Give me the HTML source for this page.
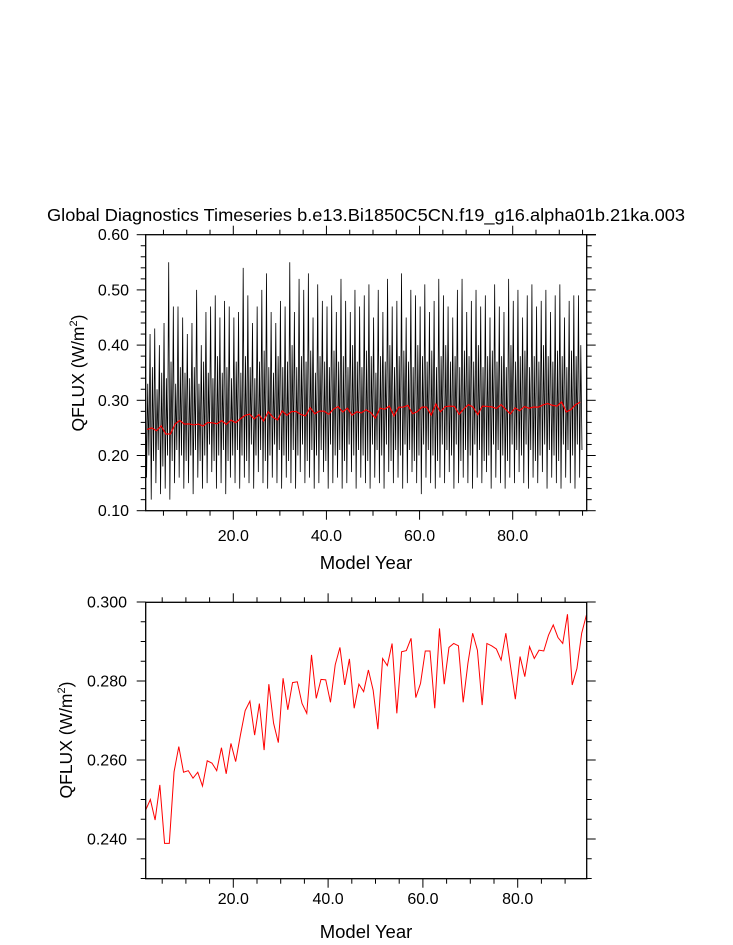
<!DOCTYPE html>
<html><head><meta charset="utf-8"><style>
html,body{margin:0;padding:0;background:#fff}
svg{display:block;font-family:"Liberation Sans",Arial,sans-serif}
</style></head><body>
<svg id="fig" width="733" height="945" viewBox="0 0 733 945" xmlns="http://www.w3.org/2000/svg">
<rect width="733" height="945" fill="#fff"/>
<text x="366" y="221" text-anchor="middle" font-size="17.5" textLength="638" lengthAdjust="spacingAndGlyphs">Global Diagnostics Timeseries b.e13.Bi1850C5CN.f19_g16.alpha01b.21ka.003</text>
<g id="top"></g>
<g id="bot"></g>
</svg>
<script>
// ---- data ----
const annualYears = [];
for (let i = 1; i <= 94; i++) annualYears.push(i + 0.5);
const annualMean = [0.2473,0.2500,0.2448,0.2537,0.2389,0.2389,0.2570,0.2634,0.2569,0.2573,
0.2554,0.2569,0.2534,0.2598,0.2592,0.2573,0.2631,0.2565,0.2642,0.2596,
0.2663,0.2725,0.2749,0.2663,0.2743,0.2625,0.2792,0.2693,0.2644,0.2807,
0.2727,0.2796,0.2798,0.2743,0.2718,0.2866,0.2756,0.2804,0.2803,0.2746,
0.2841,0.2885,0.2790,0.2856,0.2731,0.2792,0.2773,0.2828,0.2777,0.2678,
0.2857,0.2839,0.2895,0.2718,0.2874,0.2877,0.2908,0.2758,0.2794,0.2876,
0.2876,0.2731,0.2933,0.2792,0.2885,0.2895,0.2889,0.2746,0.2845,0.2921,
0.2878,0.2739,0.2895,0.2889,0.2881,0.2853,0.2921,0.2836,0.2754,0.2862,
0.2811,0.2887,0.2857,0.2878,0.2876,0.2916,0.2942,0.2910,0.2895,0.2969,
0.2790,0.2832,0.2921,0.2967];
const seasonPeak = [0.38,0.42,0.43,0.40,0.44,0.55,0.47,0.47,0.45,0.42,
0.44,0.50,0.40,0.46,0.47,0.49,0.45,0.48,0.47,0.45,
0.46,0.54,0.49,0.44,0.47,0.50,0.53,0.46,0.44,0.48,
0.47,0.55,0.46,0.52,0.50,0.53,0.45,0.51,0.48,0.47,
0.49,0.46,0.52,0.48,0.46,0.50,0.47,0.49,0.51,0.45,
0.50,0.46,0.52,0.47,0.48,0.53,0.45,0.50,0.49,0.47,
0.51,0.46,0.48,0.52,0.49,0.47,0.45,0.50,0.52,0.46,
0.48,0.50,0.47,0.49,0.45,0.51,0.47,0.46,0.52,0.48,
0.50,0.45,0.49,0.51,0.47,0.48,0.50,0.46,0.49,0.51,
0.45,0.48,0.49,0.49];
const seasonTrough1 = [0.16,0.12,0.15,0.13,0.14,0.12,0.15,0.16,0.14,0.15,
0.13,0.16,0.14,0.15,0.17,0.14,0.15,0.13,0.16,0.15,
0.14,0.16,0.15,0.14,0.17,0.15,0.14,0.16,0.15,0.14,
0.16,0.15,0.14,0.17,0.15,0.16,0.14,0.15,0.17,0.14,
0.15,0.16,0.14,0.15,0.17,0.14,0.16,0.15,0.14,0.16,
0.15,0.14,0.17,0.15,0.16,0.14,0.15,0.17,0.15,0.13,
0.16,0.15,0.14,0.16,0.15,0.17,0.14,0.15,0.16,0.15,
0.14,0.16,0.15,0.17,0.14,0.16,0.15,0.14,0.16,0.15,
0.17,0.15,0.14,0.16,0.15,0.17,0.14,0.16,0.15,0.14,
0.16,0.15,0.14,0.16];
const seasonPeak2 = [0.33,0.36,0.32,0.35,0.34,0.37,0.33,0.36,0.35,0.34,
0.36,0.33,0.37,0.35,0.34,0.38,0.35,0.36,0.34,0.37,
0.35,0.38,0.36,0.34,0.37,0.39,0.36,0.35,0.38,0.36,
0.37,0.40,0.36,0.38,0.37,0.39,0.35,0.38,0.37,0.36,
0.39,0.37,0.38,0.36,0.40,0.37,0.36,0.39,0.38,0.35,
0.38,0.37,0.40,0.36,0.38,0.39,0.37,0.36,0.40,0.38,
0.37,0.39,0.36,0.38,0.40,0.37,0.38,0.36,0.39,0.38,
0.37,0.40,0.36,0.38,0.39,0.37,0.38,0.36,0.40,0.37,
0.38,0.39,0.36,0.38,0.37,0.40,0.38,0.37,0.39,0.38,
0.36,0.39,0.38,0.40];
const seasonTrough2 = [0.20,0.19,0.21,0.18,0.20,0.19,0.21,0.20,0.19,0.20,
0.21,0.19,0.20,0.22,0.19,0.20,0.21,0.19,0.20,0.21,
0.20,0.19,0.22,0.20,0.21,0.19,0.20,0.22,0.21,0.20,
0.19,0.21,0.20,0.22,0.19,0.21,0.20,0.21,0.19,0.22,
0.20,0.21,0.19,0.22,0.20,0.21,0.20,0.19,0.22,0.21,
0.20,0.22,0.19,0.21,0.20,0.22,0.21,0.19,0.20,0.22,
0.21,0.20,0.19,0.22,0.21,0.20,0.22,0.19,0.21,0.20,
0.22,0.21,0.19,0.20,0.22,0.21,0.20,0.19,0.22,0.21,
0.20,0.22,0.21,0.19,0.20,0.22,0.21,0.20,0.19,0.22,
0.21,0.20,0.22,0.21];
const topYTicks = [0.10,0.20,0.30,0.40,0.50,0.60];
const topYLabels = ["0.10","0.20","0.30","0.40","0.50","0.60"];
const botYTicks = [0.240,0.260,0.280,0.300];
const botYLabels = ["0.240","0.260","0.280","0.300"];
const xTicks = [20,40,60,80];
const xLabels = ["20.0","40.0","60.0","80.0"];

const NS = "http://www.w3.org/2000/svg";
function mk(parent, tag, attrs) {
  const e = document.createElementNS(NS, tag);
  for (const k in attrs) e.setAttribute(k, attrs[k]);
  parent.appendChild(e);
  return e;
}
const L = 145.7, R = 586.7;

function axes(g, cfg) {
  const { top, bot, xs, ys, ymin, ymax, yMinor, yTicks, yLabels, labelX, titleX, titleY, xLabelY, xTitleY } = cfg;
  const fr = mk(g, 'rect', { x: L, y: top, width: R - L, height: bot - top, fill: 'none', stroke: '#000', 'stroke-width': 1.3 });
  
  
  for (let v = 5; v <= 95; v += 5) {
    const x = xs(v);
    if (x < L || x > R) continue;
    const len = v % 20 === 0 ? 9 : 5;
    const t1 = mk(g, 'line', { x1: x, x2: x, y1: bot, y2: bot + len, stroke: '#000', 'stroke-width': 1 });
    
    
    const t2 = mk(g, 'line', { x1: x, x2: x, y1: top, y2: top - len, stroke: '#000', 'stroke-width': 1 });
    
    
  }
  xTicks.forEach((v, i) => {
    const t = mk(g, 'text', { x: xs(v), y: xLabelY, 'text-anchor': 'middle', 'font-size': 16 });
    t.textContent = xLabels[i];
    
    
  });
  const n = Math.round((ymax - ymin) / yMinor);
  for (let i = 0; i <= n; i++) {
    const v = ymin + i * yMinor;
    const y = ys(v);
    const major = yTicks.some(t => Math.abs(t - v) < yMinor / 10);
    const len = major ? 9 : 5;
    const a = mk(g, 'line', { x1: L - len, x2: L, y1: y, y2: y, stroke: '#000', 'stroke-width': 1 });
    
    
    const b = mk(g, 'line', { x1: R, x2: R + len, y1: y, y2: y, stroke: '#000', 'stroke-width': 1 });
    
    
  }
  yTicks.forEach((v, i) => {
    const t = mk(g, 'text', { x: labelX, y: ys(v) + 5.5, 'text-anchor': 'end', 'font-size': 16 });
    t.textContent = yLabels[i];
    
    
  });
  const yt = mk(g, 'text', { x: titleX, y: titleY, 'text-anchor': 'middle', 'font-size': 17.5, transform: `rotate(-90 ${titleX} ${titleY})` });
  yt.innerHTML = 'QFLUX (W/m<tspan dy="-7" font-size="11">2</tspan><tspan dy="7">)</tspan>';
  
  
  const xt = mk(g, 'text', { x: 366, y: xTitleY, 'text-anchor': 'middle', 'font-size': 18.5 });
  xt.textContent = 'Model Year';
  
  
}

// ---- top chart ----
const gt = document.getElementById('top');
const txs = v => 233.3 + (v - 20) * (512.7 - 233.3) / 60;
const tys = v => 510.7 - (v - 0.10) * 552;
let pts = [];
annualYears.forEach((yr, i) => {
  const y0 = yr - 0.5;
  pts.push([txs(y0 + 0.125), tys(seasonPeak[i])]);
  pts.push([txs(y0 + 0.375), tys(seasonTrough1[i])]);
  pts.push([txs(y0 + 0.625), tys(seasonPeak2[i])]);
  pts.push([txs(y0 + 0.875), tys(seasonTrough2[i])]);
});
const monthly = mk(gt, 'polyline', { points: pts.map(p => p.join(',')).join(' '), fill: 'none', stroke: '#000', 'stroke-width': 0.8 });


const redTop = mk(gt, 'polyline', { points: annualYears.map((yr, i) => txs(yr) + ',' + tys(annualMean[i])).join(' '), fill: 'none', stroke: '#ff0000', 'stroke-width': 1.2 });


axes(gt, { top: 234.7, bot: 510.7, xs: txs, ys: tys, ymin: 0.10, ymax: 0.60, yMinor: 0.02,
  yTicks: topYTicks, yLabels: topYLabels, labelX: 129, titleX: 84, titleY: 373, xLabelY: 541, xTitleY: 569 });
const ext = mk(gt, 'line', { x1: R, x2: 596, y1: 234.7, y2: 234.7, stroke: '#000', 'stroke-width': 1.3 });



// ---- bottom chart ----
const gb = document.getElementById('bot');
const bxs = v => 233.3 + (v - 20) * (517.7 - 233.3) / 60;
const bys = v => 681 - (v - 0.28) * 3950;
const redBot = mk(gb, 'polyline', { points: annualYears.map((yr, i) => bxs(yr) + ',' + bys(annualMean[i])).join(' '), fill: 'none', stroke: '#ff0000', 'stroke-width': 1 });


axes(gb, { top: 602.3, bot: 878.7, xs: bxs, ys: bys, ymin: 0.230, ymax: 0.300, yMinor: 0.005,
  yTicks: botYTicks, yLabels: botYLabels, labelX: 127, titleX: 72, titleY: 740, xLabelY: 904, xTitleY: 938 });
</script>
</body></html>
